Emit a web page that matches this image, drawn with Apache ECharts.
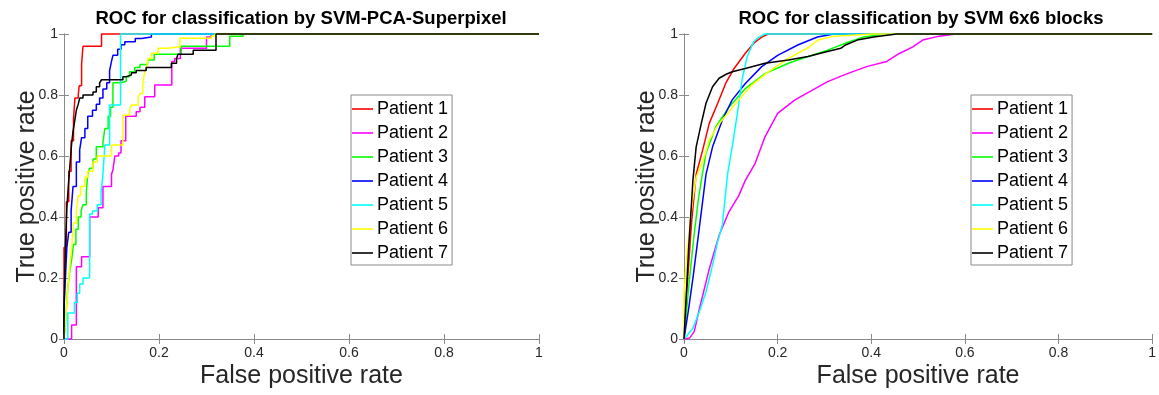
<!DOCTYPE html>
<html>
<head>
<meta charset="utf-8">
<title>ROC curves</title>
<script src="https://cdn.jsdelivr.net/npm/echarts@6/dist/echarts.min.js"></script>
<style>
  html, body { margin: 0; padding: 0; background: #fff; }
  #chart { width: 1159px; height: 395px; }
</style>
</head>
<body>
<div id="chart"></div>
<script>
const patients = ["Patient 1", "Patient 2", "Patient 3", "Patient 4", "Patient 5", "Patient 6", "Patient 7"];
const colors = ["#ff0000", "#ff00ff", "#00ff00", "#0000ff", "#00ffff", "#ffff00", "#000000"];
const titles = ["ROC for classification by SVM-PCA-Superpixel", "ROC for classification by SVM 6x6 blocks"];

// left plot: [fpr, tpr] at the top of each vertical riser (drawn as steps)
const sp1 = [[0, 0], [0, 0.3], [0.005, 0.45], [0.01, 0.55], [0.015, 0.65], [0.02, 0.72], [0.023, 0.79], [0.03, 0.8], [0.032, 0.83], [0.037, 0.9], [0.04, 0.96], [0.079, 1], [1, 1]];
const sp2 = [[0, 0], [0.016, 0.046], [0.026, 0.237], [0.037, 0.27], [0.054, 0.4], [0.072, 0.43], [0.082, 0.5], [0.1, 0.54], [0.103, 0.554], [0.107, 0.6], [0.115, 0.61], [0.12, 0.65], [0.13, 0.73], [0.152, 0.745], [0.16, 0.76], [0.17, 0.794], [0.191, 0.833], [0.227, 0.91], [0.233, 0.92], [0.245, 0.953], [0.3, 0.99], [0.31, 1], [1, 1]];
const sp3 = [[0, 0], [0.003, 0.05], [0.006, 0.12], [0.008, 0.17], [0.012, 0.22], [0.016, 0.26], [0.02, 0.31], [0.025, 0.36], [0.03, 0.4], [0.036, 0.42], [0.04, 0.44], [0.047, 0.48], [0.05, 0.54], [0.054, 0.56], [0.061, 0.59], [0.068, 0.63], [0.082, 0.645], [0.086, 0.69], [0.093, 0.73], [0.098, 0.76], [0.103, 0.84], [0.12, 0.845], [0.131, 0.86], [0.138, 0.876], [0.149, 0.89], [0.16, 0.9], [0.176, 0.915], [0.19, 0.934], [0.247, 0.96], [0.349, 0.993], [0.377, 1], [1, 1]];
const sp4 = [[0, 0], [0, 0.1], [0.003, 0.2], [0.006, 0.3], [0.01, 0.35], [0.015, 0.42], [0.019, 0.5], [0.026, 0.58], [0.033, 0.62], [0.037, 0.66], [0.044, 0.69], [0.05, 0.73], [0.06, 0.75], [0.068, 0.77], [0.075, 0.79], [0.082, 0.82], [0.09, 0.84], [0.096, 0.88], [0.1, 0.91], [0.103, 0.93], [0.113, 0.95], [0.12, 0.965], [0.128, 0.975], [0.15, 0.985], [0.163, 0.99], [0.184, 1], [1, 1]];
const sp5 = [[0, 0], [0.008, 0.085], [0.022, 0.12], [0.028, 0.15], [0.033, 0.18], [0.04, 0.2], [0.054, 0.41], [0.06, 0.42], [0.07, 0.44], [0.078, 0.48], [0.082, 0.54], [0.086, 0.636], [0.096, 0.767], [0.119, 1], [1, 1]];
const sp6 = [[0, 0], [0.003, 0.06], [0.006, 0.12], [0.01, 0.2], [0.013, 0.25], [0.016, 0.3], [0.02, 0.38], [0.026, 0.42], [0.03, 0.47], [0.035, 0.5], [0.044, 0.53], [0.05, 0.55], [0.061, 0.58], [0.07, 0.6], [0.1, 0.636], [0.124, 0.734], [0.138, 0.75], [0.142, 0.767], [0.156, 0.79], [0.16, 0.805], [0.166, 0.84], [0.17, 0.876], [0.174, 0.893], [0.177, 0.92], [0.184, 0.937], [0.198, 0.953], [0.219, 0.958], [0.244, 0.986], [0.31, 0.993], [0.318, 1], [1, 1]];
const sp7 = [[0, 0], [0, 0.1], [0.003, 0.3], [0.006, 0.43], [0.009, 0.5], [0.012, 0.56], [0.016, 0.64], [0.019, 0.68], [0.023, 0.72], [0.026, 0.75], [0.03, 0.77], [0.033, 0.79], [0.04, 0.8], [0.061, 0.81], [0.068, 0.827], [0.075, 0.84], [0.079, 0.85], [0.124, 0.86], [0.131, 0.866], [0.142, 0.873], [0.152, 0.88], [0.173, 0.89], [0.226, 0.904], [0.237, 0.92], [0.24, 0.934], [0.272, 0.947], [0.32, 1], [1, 1]];

// right plot: [fpr, tpr] points along the smooth curves
const bl1 = [[0, 0], [0.008, 0.2], [0.016, 0.38], [0.026, 0.54], [0.04, 0.62], [0.054, 0.707], [0.072, 0.773], [0.089, 0.838], [0.107, 0.887], [0.131, 0.937], [0.149, 0.97], [0.166, 0.99], [0.18, 1], [1, 1]];
const bl2 = [[0, 0], [0.012, 0.003], [0.022, 0.025], [0.033, 0.1], [0.054, 0.23], [0.075, 0.34], [0.096, 0.417], [0.117, 0.47], [0.131, 0.52], [0.152, 0.576], [0.173, 0.663], [0.2, 0.74], [0.237, 0.784], [0.279, 0.82], [0.307, 0.844], [0.349, 0.87], [0.39, 0.893], [0.433, 0.91], [0.461, 0.937], [0.489, 0.958], [0.51, 0.98], [0.545, 0.993], [0.58, 1], [1, 1]];
const bl3 = [[0, 0], [0.01, 0.17], [0.02, 0.32], [0.03, 0.45], [0.037, 0.52], [0.047, 0.61], [0.068, 0.696], [0.096, 0.76], [0.131, 0.821], [0.173, 0.87], [0.223, 0.904], [0.265, 0.926], [0.307, 0.947], [0.349, 0.972], [0.384, 0.99], [0.43, 1], [1, 1]];
const bl4 = [[0, 0], [0.01, 0.1], [0.02, 0.21], [0.034, 0.38], [0.047, 0.54], [0.061, 0.63], [0.082, 0.718], [0.103, 0.784], [0.131, 0.838], [0.166, 0.893], [0.2, 0.93], [0.243, 0.964], [0.285, 0.99], [0.32, 1], [1, 1]];
const bl5 = [[0, 0], [0.005, 0.008], [0.019, 0.035], [0.033, 0.09], [0.047, 0.155], [0.061, 0.243], [0.072, 0.32], [0.082, 0.374], [0.093, 0.54], [0.103, 0.63], [0.114, 0.74], [0.124, 0.85], [0.135, 0.926], [0.149, 0.975], [0.16, 0.99], [0.173, 1], [1, 1]];
const bl6 = [[0, 0], [0, 0.15], [0.006, 0.27], [0.012, 0.37], [0.018, 0.45], [0.026, 0.53], [0.044, 0.6], [0.054, 0.652], [0.072, 0.7], [0.096, 0.745], [0.117, 0.784], [0.145, 0.833], [0.18, 0.876], [0.223, 0.92], [0.265, 0.955], [0.286, 0.98], [0.321, 0.993], [0.405, 1], [1, 1]];
const bl7 = [[0, 0], [0.005, 0.15], [0.01, 0.3], [0.015, 0.42], [0.019, 0.52], [0.026, 0.63], [0.037, 0.707], [0.047, 0.773], [0.061, 0.827], [0.075, 0.855], [0.09, 0.868], [0.103, 0.876], [0.131, 0.887], [0.173, 0.904], [0.223, 0.915], [0.265, 0.926], [0.3, 0.94], [0.335, 0.953], [0.345, 0.964], [0.37, 0.98], [0.405, 0.99], [0.454, 1], [1, 1]];

const superpixel = [sp1, sp2, sp3, sp4, sp5, sp6, sp7];
const blocks = [bl1, bl2, bl3, bl4, bl5, bl6, bl7];

const font = "'Liberation Sans', Arial, sans-serif";
const axisColor = "#8a8a8a";

function makeAxis(grid, position, main, isX) {
  let axis = {
    type: "value",
    gridIndex: grid,
    position: position,
    min: 0,
    max: 1,
    interval: 0.2,
    axisLine: { show: true, lineStyle: { color: axisColor, width: 1 } },
    axisTick: { show: true, inside: true, length: 5, lineStyle: { color: axisColor } },
    axisLabel: { show: main, color: "#262626", fontSize: 14, fontFamily: font, margin: isX ? 7 : 6 },
    splitLine: { show: false },
  };
  if (main) {
    axis.name = isX ? "False positive rate" : "True positive rate";
    axis.nameLocation = "middle";
    axis.nameGap = isX ? 25 : 24;
    axis.nameMoveOverlap = false;
    axis.nameTextStyle = { color: "#262626", fontSize: 25, fontFamily: font };
  }
  return axis;
}

let series = [];
patients.forEach((name, i) => {
  series.push({
    name: name,
    type: "line",
    xAxisIndex: 0,
    yAxisIndex: 0,
    data: superpixel[i],
    step: "end",
    symbol: "none",
    clip: false,
    lineStyle: { color: colors[i], width: 1.5 },
    itemStyle: { color: colors[i] },
  });
});
patients.forEach((name, i) => {
  series.push({
    name: name,
    type: "line",
    xAxisIndex: 2,
    yAxisIndex: 2,
    data: blocks[i],
    symbol: "none",
    clip: false,
    lineStyle: { color: colors[i], width: 1.5 },
    itemStyle: { color: colors[i] },
  });
});

function makeLegend(left) {
  return {
    data: patients,
    orient: "vertical",
    left: left,
    top: 95,
    icon: "rect",
    itemWidth: 21,
    itemHeight: 1.6,
    itemGap: 4,
    padding: [4, 4, 2, 1],
    borderColor: "#8a8a8a",
    borderWidth: 1,
    backgroundColor: "#fff",
    selectedMode: false,
    textStyle: { color: "#000", fontSize: 18, lineHeight: 20, fontFamily: font, padding: [0, 0, 0, -1] },
  };
}

let myChart = echarts.init(document.getElementById("chart"));
myChart.setOption({
  animation: false,
  title: [
    { text: titles[0], left: 301, top: 9, textAlign: "center", padding: 0,
      textStyle: { fontSize: 18.5, fontWeight: "bold", color: "#000", fontFamily: font } },
    { text: titles[1], left: 921, top: 9, textAlign: "center", padding: 0,
      textStyle: { fontSize: 18.5, fontWeight: "bold", color: "#000", fontFamily: font } },
  ],
  grid: [
    { left: 64, top: 34, width: 475, height: 305 },
    { left: 684, top: 34, width: 474, height: 305 },
  ],
  xAxis: [
    makeAxis(0, "bottom", true, true),
    makeAxis(0, "top", false, true),
    makeAxis(1, "bottom", true, true),
    makeAxis(1, "top", false, true),
  ],
  yAxis: [
    makeAxis(0, "left", true, false),
    makeAxis(0, "right", false, false),
    makeAxis(1, "left", true, false),
    makeAxis(1, "right", false, false),
  ],
  legend: [makeLegend(351), makeLegend(971)],
  series: series,
});
</script>
</body>
</html>
